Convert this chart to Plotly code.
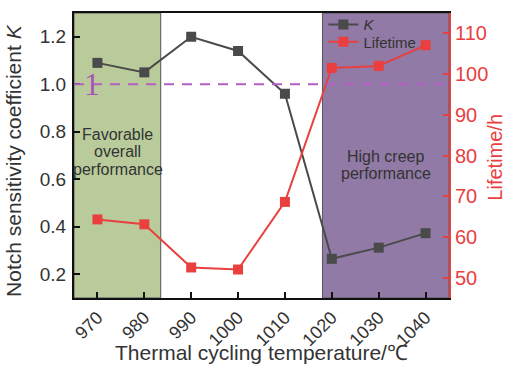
import plotly.graph_objects as go

temps = [970, 980, 990, 1000, 1010, 1020, 1030, 1040]
k_values = [1.09, 1.05, 1.20, 1.14, 0.96, 0.265, 0.312, 0.373]
lifetime = [64.3, 63.1, 52.5, 52.0, 68.6, 101.5, 102.0, 107.1]
x_ticks = [970, 980, 990, 1000, 1010, 1020, 1030, 1040]
k_ticks = [0.2, 0.4, 0.6, 0.8, 1.0, 1.2]
life_ticks = [50, 60, 70, 80, 90, 100, 110]

FONT = "Liberation Sans, Arial, sans-serif"
GRAY = "#4a4a4a"
RED = "#e9403f"
TXT = "#333333"

fig = go.Figure()
fig.add_trace(go.Scatter(
    x=temps, y=k_values, name="<i>K</i>", mode="lines+markers",
    line=dict(color=GRAY, width=2),
    marker=dict(symbol="square", size=10, color=GRAY),
    legend="legend",
))
fig.add_trace(go.Scatter(
    x=temps, y=lifetime, name="Lifetime", mode="lines+markers", yaxis="y2",
    line=dict(color=RED, width=2),
    marker=dict(symbol="square", size=10, color=RED),
    legend="legend2",
))

fig.add_shape(type="rect", xref="x", yref="paper", x0=965, x1=983.5, y0=0, y1=1,
              fillcolor="#b9cb9b", line=dict(color="#555555", width=1), layer="below")
fig.add_shape(type="rect", xref="x", yref="paper", x0=1018, x1=1045, y0=0, y1=1,
              fillcolor="#917aa6", line=dict(color="#555555", width=1), layer="below")
fig.add_shape(type="line", xref="paper", yref="y", x0=0, x1=1, y0=1.0, y1=1.0,
              line=dict(color="#b45fc4", width=2, dash="10px,8px"))

fig.add_annotation(x=968.8, y=1.0, xref="x", yref="y", text="1", showarrow=False,
                   xanchor="center", yanchor="middle",
                   font=dict(family="Liberation Serif, Times New Roman, serif", size=32, color="#a855b8"))

for txt, yy in [("Favorable", 0.787), ("overall", 0.715), ("performance", 0.643)]:
    fig.add_annotation(x=974.3, y=yy, xref="x", yref="y", text=txt, showarrow=False,
                       xanchor="center", font=dict(family=FONT, size=16, color=TXT))
for txt, yy in [("High creep", 0.697), ("performance", 0.625)]:
    fig.add_annotation(x=1031.5, y=yy, xref="x", yref="y", text=txt, showarrow=False,
                       xanchor="center", font=dict(family=FONT, size=16, color=TXT))

# axis titles
fig.add_annotation(x=-0.163, y=0.484, xref="paper", yref="paper", textangle=-90,
                   xanchor="center", yanchor="middle",
                   text="Notch sensitivity coefficient <i>K</i>", showarrow=False,
                   font=dict(family=FONT, size=21, color=TXT))
fig.add_annotation(x=1.122, y=0.495, xref="paper", yref="paper", textangle=-90,
                   xanchor="center", yanchor="middle",
                   text="Lifetime/h", showarrow=False,
                   font=dict(family=FONT, size=20, color=RED))
fig.add_annotation(x=0.5, y=-0.19, xref="paper", yref="paper",
                   xanchor="center", yanchor="middle",
                   text="Thermal cycling temperature/℃", showarrow=False,
                   font=dict(family=FONT, size=21, color=TXT))

legend_style = dict(xanchor="left", yanchor="top", bgcolor="rgba(0,0,0,0)",
                    font=dict(size=15, color=TXT), itemwidth=30)

fig.update_layout(
    width=507, height=367,
    margin=dict(l=74, r=58, t=13, b=69, autoexpand=False),
    paper_bgcolor="white", plot_bgcolor="white",
    font=dict(family=FONT, size=19, color=TXT),
    showlegend=True,
    legend=dict(x=0.665, y=1.017, **legend_style),
    legend2=dict(x=0.665, y=0.956, **legend_style),
    xaxis=dict(range=[965, 1045], tickvals=x_ticks, ticktext=[str(t) for t in x_ticks],
               tickangle=-45, ticks="inside", ticklen=6, tickwidth=2, tickcolor="#111111",
               showline=True, linewidth=2, linecolor="#111111", mirror=True,
               tickfont=dict(size=18, color=TXT),
               showgrid=False, zeroline=False, automargin=False),
    yaxis=dict(range=[0.1, 1.3], tickvals=k_ticks, tickformat=".1f",
               ticks="inside", ticklen=6, tickwidth=2, tickcolor="#111111",
               showline=True, linewidth=2, linecolor="#111111",
               tickfont=dict(size=19, color=TXT), ticklabelstandoff=2,
               showgrid=False, zeroline=False, automargin=False),
    yaxis2=dict(range=[45, 115], tickvals=life_ticks, overlaying="y", side="right",
                ticks="inside", ticklen=6, tickwidth=2, tickcolor=RED,
                showline=True, linewidth=2, linecolor=RED,
                tickfont=dict(color=RED, size=20),
                showgrid=False, zeroline=False, automargin=False),
)

# remove the browser's default 8px page margin so the figure fills the window
fig.write_html("out.html", config={"displayModeBar": False},
               post_script="document.body.style.margin='0px';")
